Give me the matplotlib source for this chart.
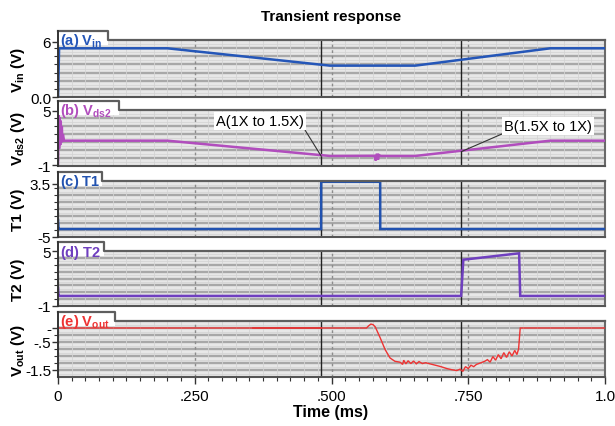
import matplotlib
matplotlib.use('Agg')
import matplotlib.pyplot as plt
from matplotlib.patches import Rectangle
from matplotlib.lines import Line2D
import numpy as np

plt.rcParams['font.family'] = ['Liberation Sans Narrow', 'Liberation Sans', 'DejaVu Sans']
plt.rcParams['mathtext.fontset'] = 'custom'
plt.rcParams['mathtext.rm'] = 'Liberation Sans'
plt.rcParams['mathtext.bf'] = 'Liberation Sans:bold'
plt.rcParams['mathtext.it'] = 'Liberation Sans:italic'

# ---------------- data ----------------
t_vin = [0.0, 0.002, 0.2, 0.497, 0.653, 0.9, 1.0]
v_in = [0.0, 5.28, 5.28, 3.4, 3.4, 5.28, 5.28]

t_vds2 = [0.0, 0.001, 0.002, 0.003, 0.004, 0.005, 0.006, 0.007, 0.008, 0.009, 0.011,
          0.2, 0.497, 0.578, 0.581, 0.583, 0.585, 0.587, 0.590, 0.653, 0.9, 1.0]
v_ds2 = [-0.8, 4.5, 0.8, 4.3, 1.2, 3.9, 1.5, 3.3, 1.6, 2.4, 1.69,
         1.69, 0.0, 0.02, -0.5, 0.25, -0.4, 0.1, 0.0, 0.0, 1.69, 1.69]

t_t1 = [0.0, 0.001, 0.003, 0.481, 0.4811, 0.589, 0.5891, 1.0]
v_t1 = [-2.3, -3.72, -3.72, -3.72, 3.85, 3.85, -3.72, -3.72]

t_t2 = [0.0, 0.001, 0.003, 0.737, 0.741, 0.843, 0.845, 1.0]
v_t2 = [1.0, 0.1, 0.1, 0.1, 4.05, 4.75, 0.1, 0.1]

t_vout = [0.0, 0.564, 0.568, 0.572, 0.576, 0.580, 0.589, 0.598, 0.607, 0.616, 0.625,
          0.630, 0.632, 0.636, 0.640, 0.645, 0.650, 0.655, 0.660, 0.666, 0.672, 0.680,
          0.690, 0.700, 0.711, 0.720, 0.729, 0.735, 0.740, 0.745, 0.750, 0.755, 0.760,
          0.765, 0.772, 0.780, 0.785, 0.790, 0.795, 0.800, 0.805, 0.810, 0.815, 0.820,
          0.825, 0.830, 0.835, 0.839, 0.842, 0.845, 1.0]
v_out = [0.0, 0.0, 0.08, 0.14, 0.12, 0.04, -0.35, -0.77, -1.07, -1.19, -1.22,
         -1.30, -1.15, -1.28, -1.17, -1.27, -1.18, -1.28, -1.20, -1.27, -1.24, -1.28,
         -1.33, -1.38, -1.45, -1.49, -1.52, -1.47, -1.55, -1.38, -1.45, -1.33, -1.38,
         -1.30, -1.25, -1.19, -1.13, -1.22, -1.02, -1.15, -0.95, -1.10, -0.88, -1.05,
         -0.85, -1.00, -0.80, -0.95, -0.75, 0.0, 0.0]
t_vout_ref = [0.357, 0.48]
v_out_ref = [0.0, 0.0]

markers_t = [0.481, 0.737]
x_ticks = [0.0, 0.25, 0.5, 0.75, 1.0]
x_ticklabels = ['0', '.250', '.500', '.750', '1.0']

# ---------------- layout ----------------
W, H = 615, 427
fig = plt.figure(figsize=(W / 100, H / 100), dpi=100)
fig.patch.set_facecolor('white')

def fx(px):
    return px / W

def fy(py):
    return 1 - py / H

LEFT, RIGHT = 58, 605
panels = [
    dict(top=41, bot=98, tab=108, ylim=(0, 6.18), yt=[0, 6], ytl=['0.0', '6'],
         label=r'$\mathbf{(a)\ V_{in}}$', col='#2456b8', ylab=r'$\mathbf{V_{in}}$ (V)',
         t=t_vin, v=v_in, lw=1.8, nb=7),
    dict(top=111, bot=167, tab=119, ylim=(-1.11, 5.08), yt=[-1, 5], ytl=['-1', '5'],
         label=r'$\mathbf{(b)\ V_{ds2}}$', col='#b14dbd', ylab=r'$\mathbf{V_{ds2}}$ (V)',
         t=t_vds2, v=v_ds2, lw=1.8, nb=7),
    dict(top=182, bot=238, tab=102, ylim=(-5, 3.98), yt=[-5, 3.5], ytl=['-5', '3.5'],
         label=r'$\mathbf{(c)\ T1}$', col='#2152b0', ylab='T1 (V)',
         t=t_t1, v=v_t1, lw=1.8, nb=8),
    dict(top=252, bot=307, tab=104, ylim=(-1, 5), yt=[-1, 5], ytl=['-1', '5'],
         label=r'$\mathbf{(d)\ T2}$', col='#6f3fbf', ylab='T2 (V)',
         t=t_t2, v=v_t2, lw=1.8, nb=8),
    dict(top=322, bot=378, tab=115, ylim=(-1.75, 0.25), yt=[-1.5, -0.5, 0.0], ytl=['-1.5', '-.5', '-'],
         label=r'$\mathbf{(e)\ V_{out}}$', col='#ee3333', ylab=r'$\mathbf{V_{out}}$ (V)',
         t=t_vout, v=v_out, lw=1.0, nb=8),
]

axes = []
for i, p in enumerate(panels):
    ax = fig.add_axes([fx(LEFT), fy(p['bot']), fx(RIGHT - LEFT), (p['bot'] - p['top']) / H])
    axes.append(ax)
    ax.set_facecolor('#e8e8e8')
    ax.set_xlim(0, 1)
    ax.set_ylim(*p['ylim'])
    # horizontal bands
    nb = p['nb']
    for k in range(1, nb):
        ax.plot([0, 1], [k / nb, k / nb], transform=ax.transAxes, color='#a8a8a8', lw=1.7, zorder=0.5)
    for k in range(nb):
        f = (k + 0.5) / nb
        ax.plot([0, 1], [f, f], transform=ax.transAxes, color='#d8d8d8', lw=0.8, zorder=0.4)
    # vertical grid
    ax.set_xticks(x_ticks)
    ax.set_xticks(np.arange(0, 1.0001, 0.025), minor=True)
    ax.grid(which='minor', axis='x', color='#d4d4d4', lw=0.6, zorder=0.3)
    ax.grid(which='major', axis='x', color='#8c8c8c', lw=1.0, ls=(0, (2, 2)), zorder=0.6)
    ax.set_axisbelow(True)
    for tm in markers_t:
        ax.axvline(tm, color='#222222', lw=1.0, zorder=2)
    # y ticks
    y0, y1 = p['ylim']
    ax.set_yticks(p['yt'])
    ax.set_yticklabels(p['ytl'])
    ax.set_yticks([y0 + (y1 - y0) * k / nb for k in range(1, nb)], minor=True)
    ax.tick_params(axis='y', which='major', length=4, width=1, labelsize=11, pad=1, color='#333333')
    ax.tick_params(axis='y', which='minor', length=3, width=0.8, color='#333333')
    if i < len(panels) - 1:
        ax.tick_params(axis='x', which='both', length=0, labelbottom=False)
    else:
        ax.set_xticklabels(x_ticklabels)
        ax.tick_params(axis='x', which='major', length=5, width=1, labelsize=11, pad=4, color='#333333')
        ax.tick_params(axis='x', which='minor', length=3, width=0.8, color='#333333')
    # spines
    ax.spines['top'].set_visible(False)
    ax.spines['left'].set_visible(False)
    ax.spines['right'].set_color('#6a6a6a')
    ax.spines['right'].set_linewidth(1.5)
    ax.spines['bottom'].set_color('#555555')
    ax.spines['bottom'].set_linewidth(1.5)
    # data line
    ax.plot(p['t'], p['v'], color=p['col'], lw=p['lw'], zorder=3, solid_joinstyle='miter')
    if i == 4:
        ax.plot(t_vout_ref, v_out_ref, color='#c43a3a', lw=1.3, zorder=2.9)
    # tab
    top, tab = p['top'], p['tab']
    rect = Rectangle((fx(LEFT), fy(top + 5)), fx(tab - LEFT), (14) / H,
                     transform=fig.transFigure, facecolor='white', edgecolor='none',
                     clip_on=False, zorder=4)
    ax.add_patch(rect)
    ln = Line2D([fx(LEFT), fx(tab), fx(tab), fx(RIGHT)],
                [fy(top - 9), fy(top - 9), fy(top), fy(top)],
                transform=fig.transFigure, color='#5e5e5e', lw=1.6, clip_on=False, zorder=4.5)
    ax.add_line(ln)
    ln2 = Line2D([fx(LEFT), fx(LEFT)], [fy(top - 9), fy(p['bot'])],
                 transform=fig.transFigure, color='#333333', lw=1.4, clip_on=False, zorder=4.5)
    ax.add_line(ln2)
    ax.text(fx(LEFT + 2), fy(top + 0.5), p['label'], transform=fig.transFigure, color=p['col'],
            fontsize=10.5, va='center', ha='left', zorder=5)
    # y label
    fig.text(fx(18), fy((top + p['bot']) / 2), p['ylab'], rotation=90, ha='center', va='center',
             fontsize=11, fontweight='bold')

# annotations in panel (b)
axb = axes[1]
bbox = dict(boxstyle='square,pad=0.15', fc='white', ec='none')
axb.annotate('A(1X to 1.5X)', xy=(0.481, 0.0), xytext=(0.369, 3.86), fontsize=10.5,
             ha='center', va='center', bbox=bbox, zorder=6,
             arrowprops=dict(arrowstyle='-', color='#333333', lw=0.8, shrinkA=0, shrinkB=0,
                             relpos=(1.0, 0.0)))
axb.annotate('B(1.5X to 1X)', xy=(0.737, 0.47), xytext=(0.896, 3.31), fontsize=10.5,
             ha='center', va='center', bbox=bbox, zorder=6,
             arrowprops=dict(arrowstyle='-', color='#333333', lw=0.8, shrinkA=0, shrinkB=0,
                             relpos=(0.0, 0.0)))

fig.text(fx(331), fy(17), 'Transient response', ha='center', va='center', fontsize=11, fontweight='bold')
fig.text(fx(331), fy(413), 'Time (ms)', ha='center', va='center', fontsize=11.5, fontweight='bold')

fig.savefig('out.png', dpi=100, facecolor='white')
